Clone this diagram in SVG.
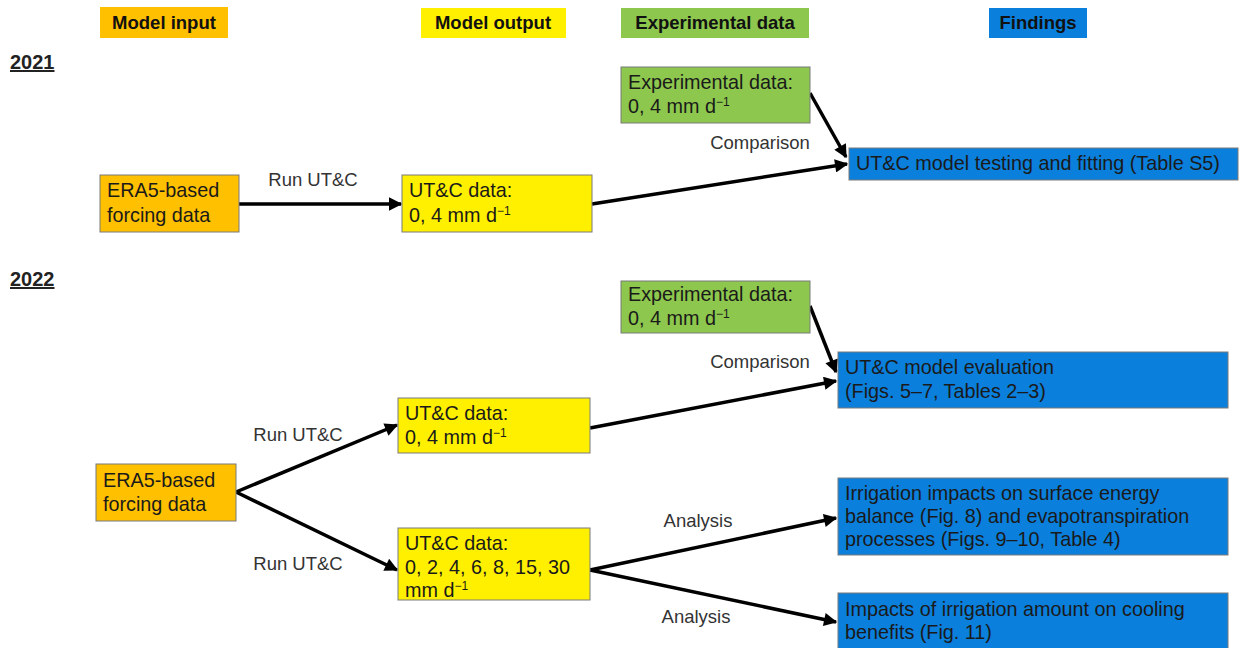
<svg xmlns="http://www.w3.org/2000/svg" width="1240" height="648" viewBox="0 0 1240 648">
<defs>
<style>
text{font-family:"Liberation Sans",Arial,sans-serif;}
.hdr{font-size:18.5px;font-weight:bold;fill:#111;text-anchor:middle;}
.yr{font-size:20px;font-weight:bold;fill:#222;text-decoration:underline;}
.t{font-size:19.8px;fill:#1a1a1a;}
.lbl{font-size:18.5px;fill:#333;text-anchor:middle;}
.box{stroke:#7a7a7a;stroke-width:1;}
.or{fill:#FFC000;}
.ye{fill:#FFF000;}
.gr{fill:#8DC74E;}
.bl{fill:#0B7FDC;}
.sup{font-size:12px;}
.conn{stroke:#000;stroke-width:3.5;fill:none;}
</style>
<marker id="ah" viewBox="0 0 10 10" refX="9" refY="5" markerWidth="4.2" markerHeight="3.8" orient="auto" markerUnits="strokeWidth">
<path d="M0,0 L10,5 L0,10 z" fill="#000"/>
</marker>
</defs>
<rect width="1240" height="648" fill="#fff"/>

<g id="headers">
<g id="h-input"><rect class="or" x="100" y="7" width="128" height="31"/><text class="hdr" x="164" y="29">Model input</text></g>
<g id="h-output"><rect class="ye" x="421" y="8" width="145" height="30"/><text class="hdr" x="493" y="29">Model output</text></g>
<g id="h-exp"><rect class="gr" x="621" y="8" width="188" height="30"/><text class="hdr" x="715" y="29">Experimental data</text></g>
<g id="h-find"><rect class="bl" x="989" y="8" width="98" height="30"/><text class="hdr" x="1038" y="29">Findings</text></g>
</g>

<g id="year2021"><text class="yr" x="10" y="69">2021</text></g>
<g id="year2022"><text class="yr" x="10" y="286">2022</text></g>

<g id="connectors">
<line class="conn" x1="239" y1="204" x2="401" y2="204" marker-end="url(#ah)"/>
<line class="conn" x1="592" y1="204" x2="847" y2="164" marker-end="url(#ah)"/>
<line class="conn" x1="810" y1="93" x2="846" y2="157" marker-end="url(#ah)"/>
<line class="conn" x1="236" y1="492" x2="397" y2="425" marker-end="url(#ah)"/>
<line class="conn" x1="236" y1="492" x2="397" y2="570" marker-end="url(#ah)"/>
<line class="conn" x1="590" y1="428" x2="836" y2="381" marker-end="url(#ah)"/>
<line class="conn" x1="810" y1="306" x2="836" y2="372" marker-end="url(#ah)"/>
<line class="conn" x1="590" y1="570" x2="836" y2="518" marker-end="url(#ah)"/>
<line class="conn" x1="590" y1="570" x2="836" y2="622" marker-end="url(#ah)"/>
<text class="lbl" x="313" y="186">Run UT&amp;C</text>
<text class="lbl" x="760" y="149">Comparison</text>
<text class="lbl" x="298" y="441">Run UT&amp;C</text>
<text class="lbl" x="298" y="570">Run UT&amp;C</text>
<text class="lbl" x="760" y="368">Comparison</text>
<text class="lbl" x="698" y="527">Analysis</text>
<text class="lbl" x="696" y="623">Analysis</text>
</g>

<g id="era5-2021"><rect class="box or" x="100" y="175" width="139" height="57"/>
<text class="t" x="107" y="197">ERA5-based</text><text class="t" x="107" y="222">forcing data</text></g>

<g id="utc-2021"><rect class="box ye" x="402" y="175" width="190" height="57"/>
<text class="t" x="409" y="197">UT&amp;C data:</text><text class="t" x="409" y="222">0, 4 mm d<tspan class="sup" dy="-7">−1</tspan></text></g>

<g id="exp-2021"><rect class="box gr" x="621" y="67" width="189" height="56"/>
<text class="t" x="628" y="89">Experimental data:</text><text class="t" x="628" y="113">0, 4 mm d<tspan class="sup" dy="-7">−1</tspan></text></g>

<g id="find-2021"><rect class="box bl" x="849" y="148" width="389" height="32"/>
<text class="t" x="856" y="170">UT&amp;C model testing and fitting (Table S5)</text></g>

<g id="exp-2022"><rect class="box gr" x="621" y="281" width="189" height="52"/>
<text class="t" x="628" y="301">Experimental data:</text><text class="t" x="628" y="325">0, 4 mm d<tspan class="sup" dy="-7">−1</tspan></text></g>

<g id="find-eval"><rect class="box bl" x="838" y="352" width="390" height="56"/>
<text class="t" x="845" y="374">UT&amp;C model evaluation</text><text class="t" x="845" y="398">(Figs. 5–7, Tables 2–3)</text></g>

<g id="utc-2022a"><rect class="box ye" x="398" y="398" width="192" height="55"/>
<text class="t" x="405" y="420">UT&amp;C data:</text><text class="t" x="405" y="444">0, 4 mm d<tspan class="sup" dy="-7">−1</tspan></text></g>

<g id="era5-2022"><rect class="box or" x="96" y="464" width="140" height="57"/>
<text class="t" x="103" y="487">ERA5-based</text><text class="t" x="103" y="511">forcing data</text></g>

<g id="utc-2022b"><rect class="box ye" x="398" y="528" width="192" height="72"/>
<text class="t" x="405" y="550">UT&amp;C data:</text><text class="t" x="405" y="574">0, 2, 4, 6, 8, 15, 30</text><text class="t" x="405" y="597">mm d<tspan class="sup" dy="-7">−1</tspan></text></g>

<g id="find-irr"><rect class="box bl" x="838" y="478" width="390" height="77"/>
<text class="t" x="845" y="500">Irrigation impacts on surface energy</text><text class="t" x="845" y="523">balance (Fig. 8) and evapotranspiration</text><text class="t" x="845" y="546">processes (Figs. 9–10, Table 4)</text></g>

<g id="find-cool"><rect class="box bl" x="838" y="593" width="390" height="56"/>
<text class="t" x="845" y="616">Impacts of irrigation amount on cooling</text><text class="t" x="845" y="639">benefits (Fig. 11)</text></g>
</svg>
